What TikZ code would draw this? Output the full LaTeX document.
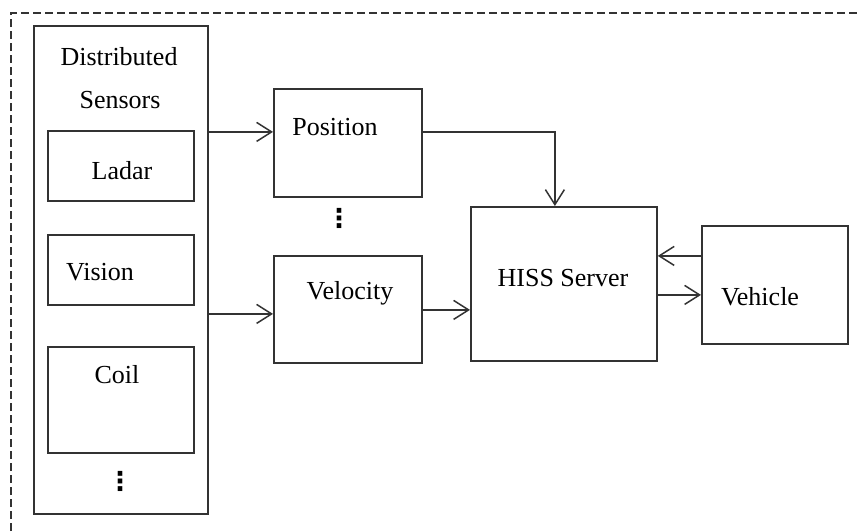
\documentclass[tikz,border=0pt]{standalone}
\usepackage{fontspec}
\setmainfont{Liberation Serif}
\newfontfamily\dotsfont{DejaVu Sans Bold}
\usetikzlibrary{arrows.meta}
\begin{document}
\begin{tikzpicture}[x=1pt,y=-1pt,
  box/.style={draw=black!80,line width=1.8pt,inner sep=0pt,anchor=north west},
  lbl/.style={font=\fontsize{26}{30}\selectfont,inner sep=0pt,text=black},
  vdot/.style={font=\dotsfont\fontsize{26}{30}\selectfont,inner sep=0pt,text=black},
  conn/.style={draw=black!80,line width=1.8pt,-{Straight Barb[length=15pt,width=19pt,line width=1.5pt]}},
  frame/.style={draw=black!80,line width=1.5pt,dash pattern=on 8pt off 4pt}]
\useasboundingbox (0,0) rectangle (858,531);
\coordinate (fbl) at (11,531);
\coordinate (ftl) at (11,13);
\coordinate (ftr) at (858,13);
\draw[frame] (fbl) -- (ftl) -- (ftr);

% distributed sensors
\node[box,minimum width=174pt,minimum height=488pt] (ds) at (33,25) {};
\node[lbl] (dst1) at (119,57) {Distributed};
\node[lbl] (dst2) at (120,100) {Sensors};
\node[box,minimum width=146pt,minimum height=70pt] (ladar) at (47,130) {};
\node[lbl] (ladart) at (122,171) {Ladar};
\node[box,minimum width=146pt,minimum height=70pt] (vision) at (47,234) {};
\node[lbl] (visiont) at (100,272) {Vision};
\node[box,minimum width=146pt,minimum height=106pt] (coil) at (47,346) {};
\node[lbl] (coilt) at (117,375) {Coil};
\node[vdot] (dsdots) at (120,481) {⋮};

% position / velocity
\node[box,minimum width=148pt,minimum height=108pt] (pos) at (273,88) {};
\node[lbl] (post) at (335,127) {Position};
\node[vdot] (pvdots) at (339,218) {⋮};
\node[box,minimum width=148pt,minimum height=107pt] (vel) at (273,255) {};
\node[lbl] (velt) at (350,293) {Velocity};

% server / vehicle
\node[box,minimum width=186pt,minimum height=154pt] (hiss) at (470,206) {};
\node[lbl] (hisst) at (563,278) {HISS Server};
\node[box,minimum width=146pt,minimum height=118pt] (veh) at (701,225) {};
\node[lbl] (veht) at (760,297) {Vehicle};

% connectors
\draw[conn] ([yshift=11pt]pos.west -| ds.east) -- ([yshift=11pt]pos.west);
\draw[conn] ([yshift=-4.5pt]vel.west -| ds.east) -- ([yshift=-4.5pt]vel.west);
\draw[conn] ([yshift=11pt]pos.east) -| ([xshift=-9pt]hiss.north);
\draw[conn] ([yshift=-0.5pt]vel.east) -- ([yshift=-0.5pt]vel.east -| hiss.west);
\draw[conn] ([yshift=29pt]veh.west) -- ([yshift=29pt]veh.west -| hiss.east);
\draw[conn] ([yshift=-10pt]veh.west -| hiss.east) -- ([yshift=-10pt]veh.west);
\end{tikzpicture}
\end{document}
